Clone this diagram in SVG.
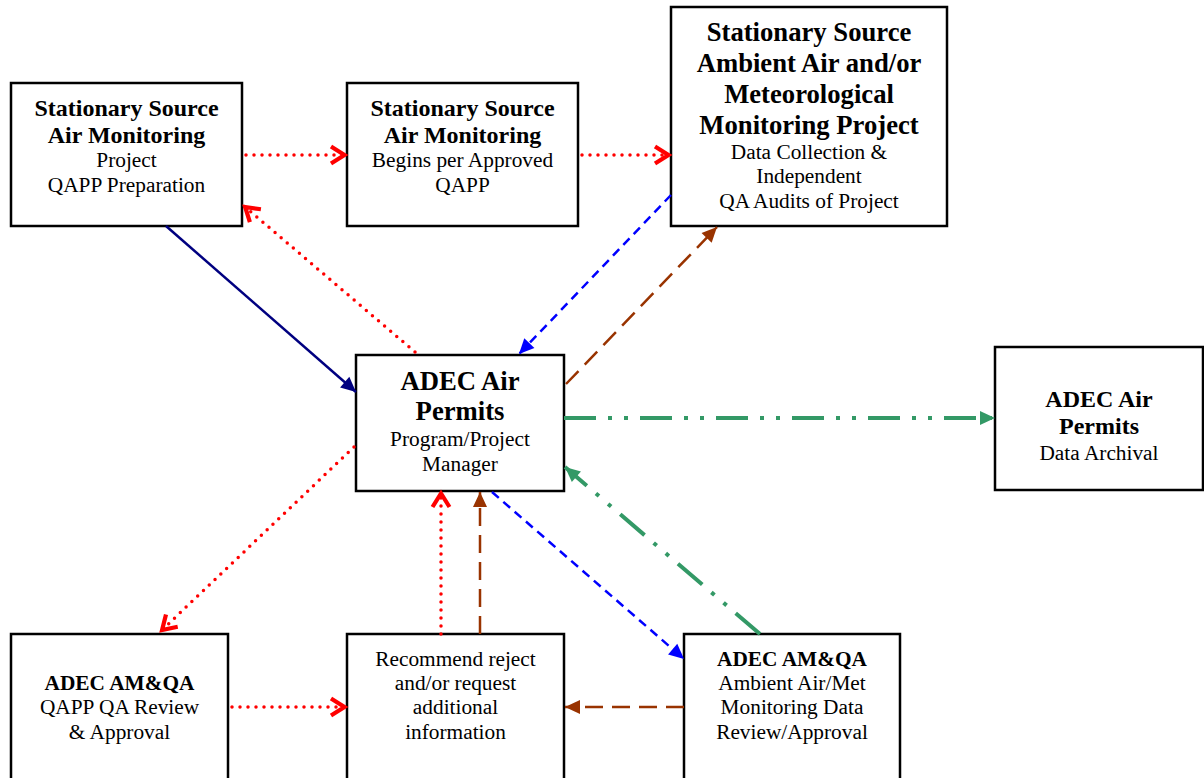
<svg xmlns="http://www.w3.org/2000/svg" width="1204" height="778" viewBox="0 0 1204 778">
<style>
.box{fill:#fff;stroke:#000;stroke-width:2.5}
text{font-family:'Liberation Serif','Times New Roman','DejaVu Serif',serif;text-anchor:middle;fill:#000}
.bs{font-weight:bold;font-size:21.33px}
.b{font-weight:bold;font-size:24px}
.bx{font-weight:bold;font-size:26.67px}
.n{font-size:21.33px}
.red{stroke:#FF0000;stroke-width:3.5;stroke-dasharray:0 8;stroke-linecap:round;fill:none}
.navy{stroke:#000080;stroke-width:2.5;fill:none}
.blue{stroke:#0000FF;stroke-width:2.5;stroke-dasharray:9 6;fill:none}
.brown{stroke:#993300;stroke-width:2.5;stroke-dasharray:18 9;fill:none}
.green{stroke:#339966;stroke-width:4;stroke-dasharray:32 12 4 12 4 12;fill:none}
</style>
<defs>
<marker id="chev" markerUnits="userSpaceOnUse" orient="auto" markerWidth="24" markerHeight="24" viewBox="-20 -12 24 24" refX="0" refY="0"><path d="M-15,-8.5 L-1.5,0 L-15,8.5" fill="none" stroke="#FF0000" stroke-width="4.2"/></marker>
<marker id="aNavy" markerUnits="userSpaceOnUse" orient="auto" markerWidth="20" markerHeight="20" viewBox="-16 -10 20 20" refX="0" refY="0"><path d="M-15,-7 L0,0 L-15,7 Z" fill="#000080"/></marker>
<marker id="aBlue" markerUnits="userSpaceOnUse" orient="auto" markerWidth="20" markerHeight="20" viewBox="-16 -10 20 20" refX="0" refY="0"><path d="M-15,-7 L0,0 L-15,7 Z" fill="#0000FF"/></marker>
<marker id="aBrown" markerUnits="userSpaceOnUse" orient="auto" markerWidth="20" markerHeight="20" viewBox="-16 -10 20 20" refX="0" refY="0"><path d="M-15,-7 L0,0 L-15,7 Z" fill="#993300"/></marker>
<marker id="aGreen" markerUnits="userSpaceOnUse" orient="auto" markerWidth="20" markerHeight="20" viewBox="-16 -10 20 20" refX="0" refY="0"><path d="M-15,-7 L0,0 L-15,7 Z" fill="#339966"/></marker>
</defs>

<g id="n1"><rect class="box" x="11" y="83" width="231" height="143"/>
<text class="b" x="126.5" y="116">Stationary Source</text>
<text class="b" x="126.5" y="143">Air Monitoring</text>
<text class="n" x="126.5" y="167">Project</text>
<text class="n" x="126.5" y="192">QAPP Preparation</text></g>

<g id="n2"><rect class="box" x="347" y="83" width="231" height="143"/>
<text class="b" x="462.5" y="116">Stationary Source</text>
<text class="b" x="462.5" y="143">Air Monitoring</text>
<text class="n" x="462.5" y="167">Begins per Approved</text>
<text class="n" x="462.5" y="192">QAPP</text></g>

<g id="n3"><rect class="box" x="671" y="7" width="276" height="219"/>
<text class="bx" x="809" y="41">Stationary Source</text>
<text class="bx" x="809" y="72">Ambient Air and/or</text>
<text class="bx" x="809" y="103">Meteorological</text>
<text class="bx" x="809" y="134">Monitoring Project</text>
<text class="n" x="809" y="159">Data Collection &amp;</text>
<text class="n" x="809" y="183">Independent</text>
<text class="n" x="809" y="208">QA Audits of Project</text></g>

<g id="n4"><rect class="box" x="356" y="355" width="208" height="136"/>
<text class="bx" x="460" y="390">ADEC Air</text>
<text class="bx" x="460" y="420">Permits</text>
<text class="n" x="460" y="446">Program/Project</text>
<text class="n" x="460" y="471">Manager</text></g>

<g id="n5"><rect class="box" x="995" y="347" width="208" height="143"/>
<text class="b" x="1099" y="407">ADEC Air</text>
<text class="b" x="1099" y="434">Permits</text>
<text class="n" x="1099" y="460">Data Archival</text></g>

<g id="n6"><rect class="box" x="11" y="634" width="217" height="160"/>
<text class="bs" x="119.5" y="690">ADEC AM&amp;QA</text>
<text class="n" x="119.5" y="714">QAPP QA Review</text>
<text class="n" x="119.5" y="739">&amp; Approval</text></g>

<g id="n7"><rect class="box" x="347" y="634" width="217" height="160"/>
<text class="n" x="455.5" y="666">Recommend reject</text>
<text class="n" x="455.5" y="690">and/or request</text>
<text class="n" x="455.5" y="714">additional</text>
<text class="n" x="455.5" y="739">information</text></g>

<g id="n8"><rect class="box" x="684" y="634" width="216" height="160"/>
<text class="bs" x="792" y="666">ADEC AM&amp;QA</text>
<text class="n" x="792" y="690">Ambient Air/Met</text>
<text class="n" x="792" y="714">Monitoring Data</text>
<text class="n" x="792" y="739">Review/Approval</text></g>

<g id="connectors">
<line class="red" x1="246" y1="155" x2="346" y2="155" marker-end="url(#chev)"/>
<line class="red" x1="582" y1="155" x2="670" y2="155" marker-end="url(#chev)"/>
<line class="red" x1="415" y1="352" x2="244" y2="206" marker-end="url(#chev)"/>
<line class="navy" x1="166" y1="226" x2="356" y2="392" marker-end="url(#aNavy)"/>
<line class="blue" x1="671" y1="195" x2="519" y2="354" marker-end="url(#aBlue)"/>
<line class="brown" x1="566" y1="384" x2="717" y2="227" marker-end="url(#aBrown)"/>
<line class="green" x1="564" y1="418" x2="995" y2="418" marker-end="url(#aGreen)"/>
<line class="red" x1="354" y1="447" x2="161" y2="631" marker-end="url(#chev)"/>
<line class="red" x1="441" y1="634" x2="441" y2="492" marker-end="url(#chev)"/>
<line class="brown" x1="480" y1="634" x2="480" y2="492" marker-end="url(#aBrown)"/>
<line class="blue" x1="492" y1="492" x2="684" y2="659" marker-end="url(#aBlue)"/>
<line class="green" x1="760" y1="634" x2="565" y2="467" marker-end="url(#aGreen)"/>
<line class="red" x1="232" y1="707" x2="346" y2="707" marker-end="url(#chev)"/>
<line class="brown" x1="684" y1="707" x2="565" y2="707" marker-end="url(#aBrown)"/>
</g>
</svg>
